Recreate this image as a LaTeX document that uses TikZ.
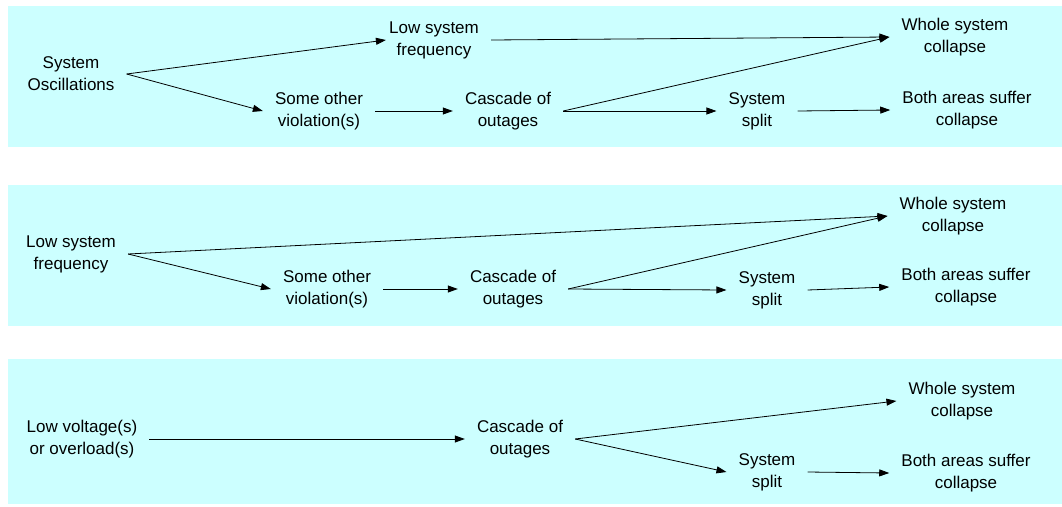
\documentclass[tikz,border=0pt]{standalone}
\usepackage{fontspec}
\setmainfont{Liberation Sans}
\usepackage{xcolor}
\usetikzlibrary{arrows.meta}
\definecolor{bandfill}{HTML}{CCFFFF}
\tikzset{
  band/.style={fill=bandfill,draw=none},
  ev/.style={align=center,inner xsep=12pt,inner ysep=0pt,
    font=\fontsize{17}{22}\selectfont},
  fl/.style={-{Triangle[length=10pt,width=7pt]},line width=0.8pt,black},
}
\begin{document}
\begin{tikzpicture}[x=1pt,y=-1pt]
  \useasboundingbox (0,0) rectangle (1062,506);
  % three scenario bands
  \fill[band] (8,6) rectangle (1062,147);
  \fill[band] (8,185) rectangle (1062,326);
  \fill[band] (8,359) rectangle (1062,504);

  % scenario 1: oscillations
  \node[ev] (so1) at (71,74) {System\\Oscillations};
  \node[ev] (lf1) at (434,40) {Low system\\frequency};
  \node[ev] (ov1) at (319,111) {Some other\\violation(s)};
  \node[ev] (ca1) at (508,111) {Cascade of\\outages};
  \node[ev] (sp1) at (757,111) {System\\split};
  \node[ev] (wc1) at (955,37) {Whole system\\collapse};
  \node[ev] (bc1) at (967,110) {Both areas suffer\\collapse};
  \draw[fl] (so1.east) -- ([xshift=9pt]lf1.west);
  \draw[fl] (so1.east) -- (ov1.west);
  \draw[fl] (ov1) -- (ca1);
  \draw[fl] (lf1.east) -- (wc1.west);
  \draw[fl] (ca1.east) -- (wc1.west);
  \draw[fl] (ca1.east) -- (sp1.west);
  \draw[fl] (sp1.east) -- (bc1.west);

  % scenario 2: low frequency
  \node[ev] (lf2) at (71,254) {Low system\\frequency};
  \node[ev] (ov2) at (327,289) {Some other\\violation(s)};
  \node[ev] (ca2) at (513,289) {Cascade of\\outages};
  \node[ev] (sp2) at (767,290) {System\\split};
  \node[ev] (wc2) at (953,216) {Whole system\\collapse};
  \node[ev] (bc2) at (966,287) {Both areas suffer\\collapse};
  \draw[fl] (lf2.east) -- (wc2.west);
  \draw[fl] (lf2.east) -- (ov2.west);
  \draw[fl] (ov2) -- (ca2);
  \draw[fl] (ca2.east) -- (wc2.west);
  \draw[fl] (ca2.east) -- (sp2.west);
  \draw[fl] (sp2.east) -- (bc2.west);

  % scenario 3: voltage / overload
  \node[ev] (lv3) at (82,439) {Low voltage(s)\\or overload(s)};
  \node[ev] (ca3) at (520,439) {Cascade of\\outages};
  \node[ev] (wc3) at (962,401) {Whole system\\collapse};
  \node[ev] (sp3) at (767,472) {System\\split};
  \node[ev] (bc3) at (966,473) {Both areas suffer\\collapse};
  \draw[fl] (lv3) -- (ca3);
  \draw[fl] (ca3.east) -- (wc3.west);
  \draw[fl] (ca3.east) -- (sp3.west);
  \draw[fl] (sp3.east) -- (bc3.west);
\end{tikzpicture}
\end{document}
